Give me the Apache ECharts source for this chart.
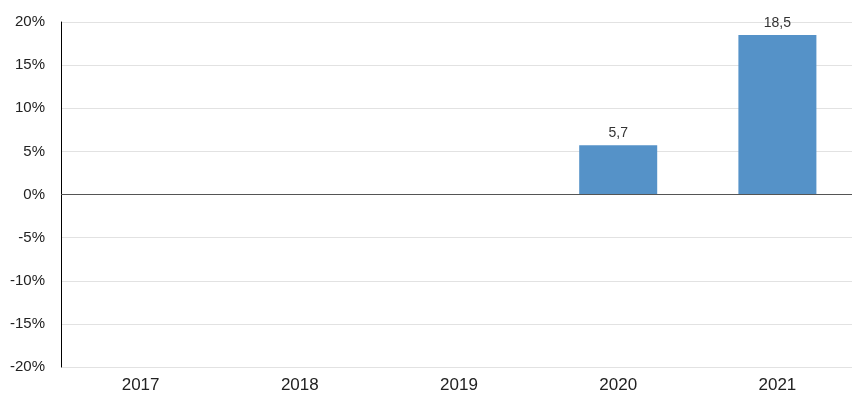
<!DOCTYPE html>
<html>
<head>
<meta charset="utf-8">
<script src="https://cdn.jsdelivr.net/npm/echarts@6/dist/echarts.min.js"></script>
<style>html,body{margin:0;padding:0;background:#fff}#c{width:852px;height:400px}</style>
</head>
<body>
<div id="c"></div>
<script>
const categories = ['2017', '2018', '2019', '2020', '2021'];
const values = [null, null, null, 5.7, 18.5];
const yMin = -20, yMax = 20, yStep = 5;

const chart = echarts.init(document.getElementById('c'), null, {renderer: 'canvas'});
chart.setOption({
  animation: false,
  backgroundColor: '#fff',
  textStyle: {fontFamily: 'Liberation Sans, Arial, sans-serif'},
  grid: {left: 61, width: 796, top: 22, bottom: 33, containLabel: false, outerBoundsMode: 'none'},
  xAxis: {
    type: 'category',
    data: categories,
    axisLine: {show: false},
    axisTick: {show: false},
    axisLabel: {color: '#222', fontSize: 17, margin: 10}
  },
  yAxis: {
    type: 'value',
    min: yMin, max: yMax, interval: yStep,
    axisLine: {show: true, lineStyle: {color: '#000', width: 1}},
    axisTick: {show: false},
    axisLabel: {color: '#222', fontSize: 15, margin: 16, formatter: v => v + '%'},
    splitLine: {show: true, lineStyle: {color: '#e2e2e2', width: 1}}
  },
  series: [{
    type: 'bar',
    data: values,
    barWidth: '49%',
    itemStyle: {color: '#5592c8'},
    label: {
      show: true, position: 'top', color: '#333', fontSize: 14, distance: 5,
      formatter: p => String(p.value).replace('.', ',')
    },
    markLine: {
      silent: true, symbol: 'none',
      label: {show: false},
      lineStyle: {color: '#555', type: 'solid', width: 1},
      data: [{yAxis: 0}]
    }
  }]
});
</script>
</body>
</html>
